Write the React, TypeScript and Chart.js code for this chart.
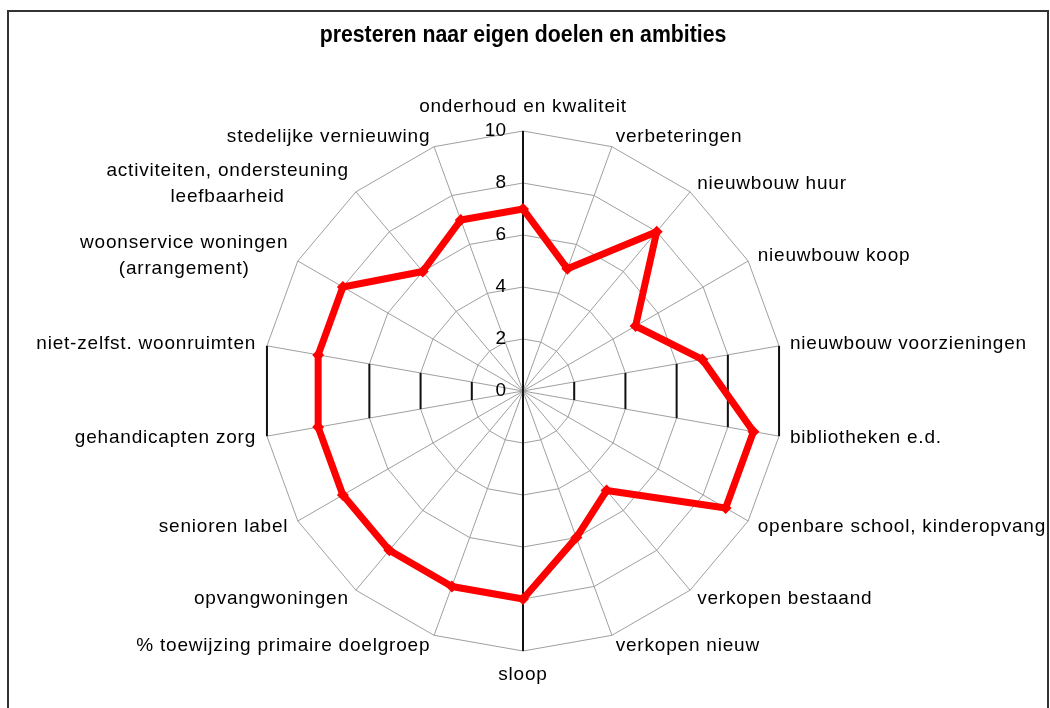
import React, { useEffect, useRef } from "react";
import { Chart, registerables } from "chart.js";

Chart.register(...registerables);

const chartTitle = "presteren naar eigen doelen en ambities";

const categories: (string | string[])[] = [
  "onderhoud en kwaliteit",
  "verbeteringen",
  "nieuwbouw huur",
  "nieuwbouw koop",
  "nieuwbouw voorzieningen",
  "bibliotheken e.d.",
  "openbare school, kinderopvang",
  "verkopen bestaand",
  "verkopen nieuw",
  "sloop",
  "% toewijzing primaire doelgroep",
  "opvangwoningen",
  "senioren label",
  "gehandicapten zorg",
  "niet-zelfst. woonruimten",
  ["woonservice woningen", "(arrangement)"],
  ["activiteiten, ondersteuning", "leefbaarheid"],
  "stedelijke vernieuwing",
];

const scores = [7, 5, 8, 5, 7, 9, 9, 5, 6, 8, 8, 8, 8, 8, 8, 8, 6, 7];

const tickValues = [0, 2, 4, 6, 8, 10];

const LABEL_FONT = '19px "Liberation Sans", Arial, sans-serif';
const TITLE_FONT = 'bold 23px "Liberation Sans", Arial, sans-serif';

const overlayPlugin = {
  id: "overlay",
  beforeDraw(chart: any) {
    const ctx = chart.ctx;
    ctx.save();
    ctx.fillStyle = "#ffffff";
    ctx.fillRect(0, 0, chart.width, chart.height);
    ctx.restore();
  },
  beforeDatasetsDraw(chart: any) {
    const s = chart.scales.r;
    const ctx = chart.ctx;
    ctx.save();
    ctx.strokeStyle = "#111111";
    ctx.lineWidth = 2;
    const verticalPairs = [
      [4, 5],
      [13, 14],
    ];
    tickValues.forEach((v) => {
      if (v === 0) return;
      const d = s.getDistanceFromCenterForValue(v);
      verticalPairs.forEach(([a, b]) => {
        const p1 = s.getPointPosition(a, d);
        const p2 = s.getPointPosition(b, d);
        ctx.beginPath();
        ctx.moveTo(p1.x, p1.y);
        ctx.lineTo(p2.x, p2.y);
        ctx.stroke();
      });
    });
    const R = s.drawingArea;
    [0, 9].forEach((i) => {
      const p = s.getPointPosition(i, R);
      ctx.beginPath();
      ctx.moveTo(s.xCenter, s.yCenter);
      ctx.lineTo(p.x, p.y);
      ctx.stroke();
    });
    ctx.restore();
  },
  afterDraw(chart: any) {
    const s = chart.scales.r;
    const ctx = chart.ctx;
    const n = categories.length;
    ctx.save();

    // frame
    ctx.strokeStyle = "#333333";
    ctx.lineWidth = 2;
    ctx.beginPath();
    ctx.moveTo(8, chart.height + 10);
    ctx.lineTo(8, 11);
    ctx.lineTo(1048, 11);
    ctx.lineTo(1048, chart.height + 10);
    ctx.stroke();

    // title (slightly condensed, as in the original)
    ctx.save();
    ctx.fillStyle = "#000000";
    ctx.font = TITLE_FONT;
    ctx.textAlign = "center";
    ctx.textBaseline = "alphabetic";
    const sx = 0.925;
    ctx.translate(s.xCenter, 42);
    ctx.scale(sx, 1);
    ctx.fillText(chartTitle, 0, 0);
    ctx.restore();

    // point labels
    ctx.fillStyle = "#000000";
    ctx.font = LABEL_FONT;
    (ctx as any).letterSpacing = "0.8px";
    ctx.textAlign = "center";
    ctx.textBaseline = "middle";
    const lineH = 26;
    categories.forEach((lab, i) => {
      const angleDeg = (i * 360) / n;
      const lines = Array.isArray(lab) ? lab : [lab];
      const p = s.getPointPosition(i, s.drawingArea + 11);
      const blockW = Math.max(...lines.map((l) => ctx.measureText(l).width));
      const blockH = lines.length * lineH;
      let cx = p.x;
      let cy = p.y;
      if (angleDeg === 0) cy = p.y - blockH / 2;
      else if (angleDeg === 180) cy = p.y + blockH / 2;
      else if (angleDeg < 180) cx = p.x + blockW / 2;
      else cx = p.x - blockW / 2;
      lines.forEach((l, k) => {
        ctx.fillText(l, cx, cy - blockH / 2 + lineH * (k + 0.5));
      });
    });

    // tick labels
    ctx.textAlign = "right";
    ctx.textBaseline = "middle";
    (ctx as any).letterSpacing = "0px";
    tickValues.forEach((v) => {
      const d = s.getDistanceFromCenterForValue(v);
      ctx.fillText(String(v), s.xCenter - 17, s.yCenter - d);
    });

    ctx.restore();
  },
};

export default function App() {
  const canvasRef = useRef<HTMLCanvasElement | null>(null);

  useEffect(() => {
    if (!canvasRef.current) return;
    const chart = new Chart(canvasRef.current, {
      type: "radar",
      data: {
        labels: categories as any,
        datasets: [
          {
            data: scores,
            borderColor: "#ff0000",
            backgroundColor: "#ff0000",
            borderWidth: 7,
            borderJoinStyle: "round",
            fill: false,
            pointStyle: "rectRot",
            pointRadius: 6,
            pointBorderWidth: 0,
            pointBackgroundColor: "#ff0000",
          },
        ],
      },
      options: {
        responsive: false,
        animation: false,
        layout: {
          padding: { left: 263, right: 267, top: 131, bottom: 57 },
        },
        plugins: {
          legend: { display: false },
          title: { display: false },
          tooltip: { enabled: false },
        },
        scales: {
          r: {
            min: 0,
            max: 10,
            beginAtZero: true,
            ticks: { stepSize: 2, display: false },
            pointLabels: { display: false },
            grid: { circular: false, color: "#a0a0a0", lineWidth: 1 },
            angleLines: { display: true, color: "#a0a0a0", lineWidth: 1 },
          },
        },
      },
      plugins: [overlayPlugin],
    });
    return () => chart.destroy();
  }, []);

  return (
    <div
      style={{
        position: "fixed",
        left: 0,
        top: 0,
        width: 1050,
        height: 708,
        overflow: "hidden",
        background: "#fff",
      }}
    >
      <canvas
        ref={canvasRef}
        width={1050}
        height={708}
        style={{ display: "block", width: 1050, height: 708 }}
      />
    </div>
  );
}
